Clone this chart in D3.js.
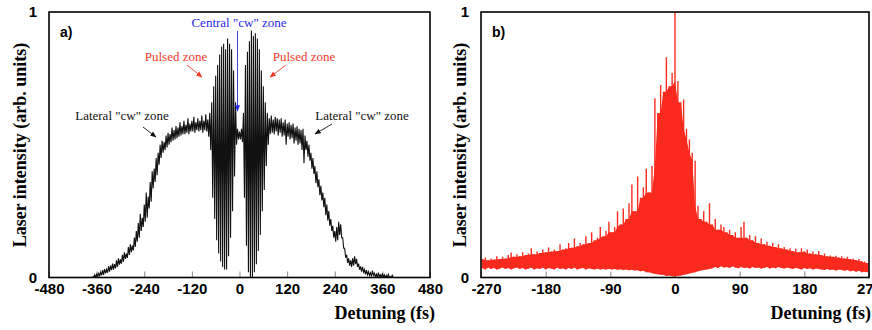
<!DOCTYPE html>
<html>
<head>
<meta charset="utf-8">
<script src="https://cdn.jsdelivr.net/npm/d3@7"></script>
<style>
  body { margin: 0; background: #fff; }
  .tick text { font-family: "Liberation Sans", Arial, sans-serif; font-weight: bold; font-size: 15px; }
  .ttl { font-family: "Liberation Serif", "Times New Roman", serif; font-weight: bold; font-size: 18px; }
  .note { font-family: "Liberation Serif", "Times New Roman", serif; font-size: 13px; }
</style>
</head>
<body>
<div id="viz"></div>
<script>
// panel a) detuning grid (fs), upper / lower trace
const aDetuning = d3.range(-370, 391, 5)
const aHigh = [
  .005,.010,.012,.018,.020,.028,.032,.030,.042,.045,
  .052,.050,.065,.072,.068,.085,.095,.090,.115,.125,
  .120,.150,.175,.205,.240,.225,.275,.320,.305,.360,
  .400,.410,.450,.470,.500,.515,.510,.535,.545,.540,
  .565,.555,.570,.565,.585,.570,.590,.575,.600,.580,
  .590,.605,.585,.600,.590,.610,.590,.615,.595,.620,
  .660,.720,.760,.800,.840,.870,.880,.860,.900,.880,
  .860,.780,.660,.560,.550,.560,.620,.800,.850,.890,
  .930,.910,.920,.900,.860,.780,.720,.660,.620,.600,
  .610,.595,.605,.600,.595,.600,.585,.595,.580,.585,
  .575,.580,.565,.570,.560,.555,.560,.535,.515,.500,
  .470,.450,.420,.400,.370,.345,.320,.300,.275,.250,
  .220,.195,.175,.190,.210,.200,.150,.110,.085,.072,
  .065,.072,.080,.070,.052,.042,.040,.030,.028,.022,
  .018,.026,.016,.012,.018,.010,.016,.010,.008,.012,
  .004,.008,.000
]
const aLow = [
  0,0,.002,.004,.008,.010,.016,.018,.022,.028,
  .030,.034,.040,.048,.052,.060,.070,.074,.085,.095,
  .102,.115,.135,.150,.175,.190,.210,.225,.260,.285,
  .335,.360,.385,.425,.450,.470,.480,.490,.500,.510,
  .515,.520,.525,.530,.535,.540,.540,.545,.540,.550,
  .550,.545,.555,.550,.555,.545,.555,.550,.530,.480,
  .300,.220,.140,.090,.060,.040,.030,.030,.080,.150,
  .250,.380,.500,.520,.520,.510,.300,.120,.020,.000,
  .000,.020,.050,.100,.160,.250,.330,.420,.500,.540,
  .545,.540,.550,.535,.545,.530,.535,.500,.530,.520,
  .525,.505,.515,.500,.505,.480,.430,.480,.455,.440,
  .410,.390,.355,.340,.310,.290,.265,.235,.215,.195,
  .175,.150,.135,.140,.160,.150,.110,.075,.055,.045,
  .040,.045,.050,.040,.030,.022,.020,.012,.010,.008,
  .004,.008,.002,0,.002,0,0,0,0,0,
  0,0,0
]

// panel b)
const bDetuning = d3.range(-268, 269, 4)
const bHigh = [
  .070,.075,.065,.072,.068,.080,.070,.078,.072,.085,
  .094,.078,.088,.080,.095,.085,.090,.110,.088,.098,
  .092,.105,.095,.113,.098,.105,.100,.125,.105,.110,
  .130,.112,.147,.118,.130,.125,.155,.130,.170,.140,
  .150,.190,.155,.175,.210,.170,.190,.250,.200,.260,
  .220,.280,.350,.250,.380,.300,.340,.410,.320,.420,
  .675,.620,.725,.700,.830,.720,.770,1.00,.740,.660,
  .670,.560,.520,.470,.440,.270,.220,.250,.210,.280,
  .200,.220,.180,.200,.190,.170,.180,.160,.170,.150,
  .190,.210,.150,.160,.140,.155,.130,.147,.125,.135,
  .120,.130,.115,.125,.110,.115,.105,.110,.100,.108,
  .095,.110,.098,.105,.090,.098,.088,.100,.085,.090,
  .080,.083,.078,.082,.075,.080,.072,.078,.070,.072,
  .066,.070,.062,.060,.055
]
const bLow = [
  .035,.030,.038,.032,.036,.030,.034,.038,.032,.036,
  .030,.035,.038,.032,.036,.030,.034,.038,.030,.035,
  .032,.038,.030,.036,.034,.030,.038,.032,.035,.030,
  .036,.032,.038,.030,.034,.036,.030,.035,.032,.030,
  .034,.030,.032,.030,.033,.030,.032,.029,.031,.028,
  .030,.027,.029,.026,.027,.024,.025,.020,.020,.016,
  .014,.012,.010,.010,.006,.008,.005,.004,.006,.008,
  .010,.012,.015,.018,.020,.024,.026,.028,.030,.032,
  .035,.040,.036,.042,.038,.040,.036,.042,.038,.035,
  .040,.036,.038,.034,.040,.036,.038,.034,.036,.040,
  .034,.038,.035,.040,.036,.034,.038,.035,.032,.036,
  .034,.030,.036,.032,.035,.030,.034,.032,.030,.028,
  .032,.028,.030,.026,.030,.028,.025,.028,.024,.026,
  .022,.025,.020,.022,.020
]

const aTicks = [-480, -360, -240, -120, 0, 120, 240, 360, 480]
const bTicks = [-270, -180, -90, 0, 90, 180, 270]

const width = 872
const height = 330
const yTop = 12, yBottom = 277.5

const svg = d3.select("#viz").append("svg").attr("width", width).attr("height", height)

const defs = svg.append("defs")
function marker(id, color){
    defs.append("marker").attr("id", id)
        .attr("viewBox", "0 0 10 10").attr("refX", 9).attr("refY", 5)
        .attr("markerWidth", 7).attr("markerHeight", 7).attr("orient", "auto")
        .append("path").attr("d", "M0,1 L10,5 L0,9 Z").attr("fill", color)
}
marker("arB", "#2a2ae8")
marker("arR", "#f03a2a")
marker("arK", "#111")

const y = d3.scaleLinear().domain([0, 1]).range([yBottom, yTop])

function panel(left, right, domain, ticks, name, ylabX, titleEnd){
    const x = d3.scaleLinear().domain(domain).range([left, right])
    const g = svg.append("g")
    g.append("clipPath").attr("id", "clip" + name)
        .append("rect").attr("x", left).attr("y", yTop).attr("width", right - left).attr("height", yBottom - yTop)

    const xAxis = d3.axisBottom(x).tickValues(ticks).tickFormat(d => String(d))
        .tickSizeInner(-6).tickSizeOuter(0).tickPadding(6)
    g.append("g").attr("class", "xaxis").attr("transform", `translate(0,${yBottom})`).call(xAxis)
        .call(s => s.select(".domain").remove())
        .call(s => s.selectAll(".tick line").attr("stroke", "#888"))

    const yAxis = d3.axisLeft(y).tickValues([0, 1]).tickFormat(d => String(d)).tickSize(0).tickPadding(12)
    g.append("g").attr("transform", `translate(${left},0)`).call(yAxis)
        .call(s => s.select(".domain").remove())

    g.append("text").attr("class", "ttl").attr("transform", `translate(${ylabX},145) rotate(-90)`)
        .attr("text-anchor", "middle").attr("dy", "0.35em").text("Laser intensity (arb. units)")
    g.append("text").attr("class", "ttl").attr("x", titleEnd).attr("y", 319)
        .attr("text-anchor", "end").text("Detuning (fs)")
    g.append("text").attr("x", left + 11).attr("y", 37)
        .style("font-family", "Liberation Sans, Arial, sans-serif").style("font-weight", "bold").style("font-size", "14px")
        .text(name + ")")
    return {x, g}
}

// ---- a)
const pa = panel(49, 430, [-480, 480], aTicks, "a", 20, 435)
const aPts = aDetuning.flatMap((d, i) => [[d, aHigh[i]], [d + 2.5, aLow[i]]])
pa.g.append("path")
    .datum(aPts)
    .attr("clip-path", "url(#clipa)")
    .attr("fill", "none").attr("stroke", "#111").attr("stroke-width", 1.1)
    .attr("d", d3.line().x(p => pa.x(p[0])).y(p => y(p[1])))

// ---- b)
const pb = panel(481, 869, [-270, 270], bTicks, "b", 460, 871)
// the first label sits a little right of its tick in the original
pb.g.select(".xaxis").selectAll(".tick text").filter(d => d === -270).attr("dx", 5)
// body of the trace: lowest of neighbouring peaks, spikes drawn on top
const bBody = bHigh.map((v, i) => Math.min(v, bHigh[i - 1] ?? v, bHigh[i + 1] ?? v))
const bg = pb.g.append("g").attr("clip-path", "url(#clipb)")
bg.append("path")
    .datum(bDetuning)
    .attr("fill", "#fa2a1e")
    .attr("d", d3.area()
        .x(d => pb.x(d)).y0((d, i) => y(bLow[i])).y1((d, i) => y(bBody[i])))
bg.selectAll("line").data(bDetuning).join("line")
    .attr("x1", d => pb.x(d)).attr("x2", d => pb.x(d))
    .attr("y1", (d, i) => y(bLow[i])).attr("y2", (d, i) => y(bHigh[i]))
    .attr("stroke", "#fa2a1e").attr("stroke-width", 1.4)

// frames on top
for (const [l, r] of [[49, 430], [481, 869]]) {
    svg.append("rect").attr("x", l).attr("y", yTop).attr("width", r - l).attr("height", yBottom - yTop)
        .attr("fill", "none").attr("stroke", "#000").attr("stroke-width", 1.6)
}

// annotations on a)
const notes = [
    {t: 'Central "cw" zone', x: 239, y: 27, c: "#2a2ae8"},
    {t: "Pulsed zone", x: 176, y: 61, c: "#f03a2a"},
    {t: "Pulsed zone", x: 304, y: 61, c: "#f03a2a"},
    {t: 'Lateral "cw" zone', x: 122, y: 120, c: "#111"},
    {t: 'Lateral "cw" zone', x: 362, y: 120, c: "#111"}
]
svg.selectAll("text.note").data(notes).join("text").attr("class", "note")
    .attr("x", d => d.x).attr("y", d => d.y).attr("text-anchor", "middle")
    .attr("fill", d => d.c).text(d => d.t)

const arrows = [
    {x1: 237.5, y1: 31, x2: 237.5, y2: 111, c: "#2a2ae8", m: "arB"},
    {x1: 187, y1: 65, x2: 202, y2: 77, c: "#f03a2a", m: "arR"},
    {x1: 286, y1: 65, x2: 270, y2: 77, c: "#f03a2a", m: "arR"},
    {x1: 143, y1: 127, x2: 156, y2: 137, c: "#111", m: "arK"},
    {x1: 332, y1: 124, x2: 315, y2: 134, c: "#111", m: "arK"}
]
svg.selectAll("line.arrow").data(arrows).join("line").attr("class", "arrow")
    .attr("x1", d => d.x1).attr("y1", d => d.y1).attr("x2", d => d.x2).attr("y2", d => d.y2)
    .attr("stroke", d => d.c).attr("stroke-width", 0.9)
    .attr("marker-end", d => `url(#${d.m})`)
</script>
</body>
</html>
